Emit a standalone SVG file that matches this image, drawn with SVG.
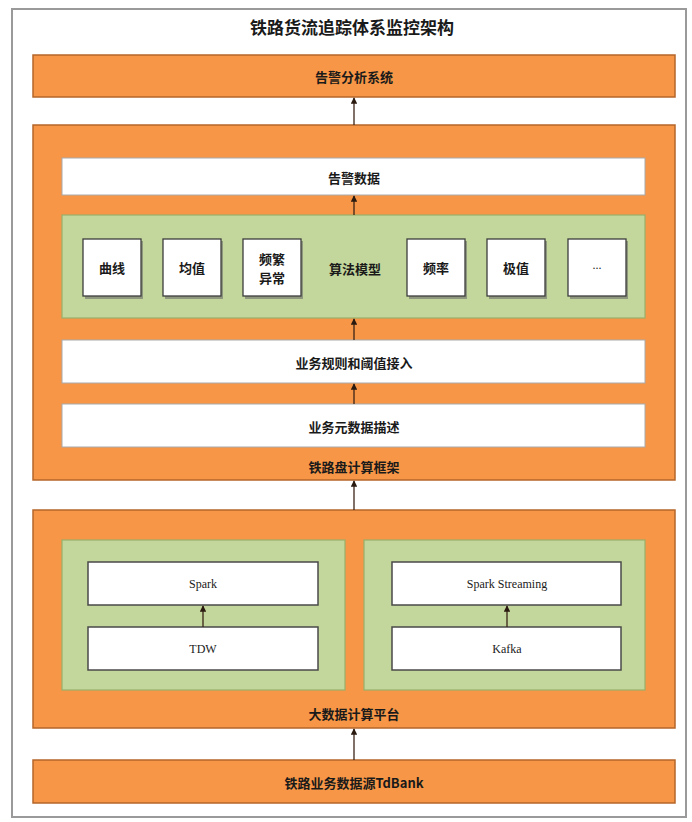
<svg xmlns="http://www.w3.org/2000/svg" width="692" height="822" viewBox="0 0 692 822">
  <style>
    .frame { fill: #ffffff; stroke: #9a9a9a; stroke-width: 2; }
    .orange { fill: #f79646; stroke: #b5652a; stroke-width: 1.5; }
    .green { fill: #c3d69b; stroke: #98b06a; stroke-width: 1.2; }
    .bar { fill: #ffffff; stroke: #a9a9a9; stroke-width: 1; }
    .card { fill: #ffffff; stroke: #4a4a4a; stroke-width: 1.5; }
    .box { fill: #ffffff; stroke: #3c3c3c; stroke-width: 1.3; }
    .shadow { fill: #6d6d6d; opacity: 0.6; }
    .t { font-family: "Noto Sans CJK SC", "Liberation Sans", sans-serif; font-weight: bold; fill: #1a1a1a; text-anchor: middle; dominant-baseline: central; }
    .en { font-family: "Liberation Serif", "Noto Sans CJK SC", serif; fill: #1a1a1a; text-anchor: middle; dominant-baseline: central; font-size: 12px; }
    .title { font-size: 17px; }
    .lbl { font-size: 13px; }
    .conn { stroke: #3b2418; stroke-width: 1.3; fill: none; marker-end: url(#arrow); }
  </style>
  <defs>
    <marker id="arrow" viewBox="0 0 10 10" refX="9" refY="5" markerWidth="5" markerHeight="5" orient="auto">
      <path d="M0,0 L10,5 L0,10 z" fill="#2a1a10"/>
    </marker>
  </defs>

  <!-- page frame -->
  <rect class="frame" x="12" y="9" width="674" height="808"/>

  <text class="t title" x="352" y="26">铁路货流追踪体系监控架构</text>

  <!-- alarm analysis system -->
  <g id="alarm-system">
    <rect class="orange" x="33" y="55" width="642" height="42"/>
    <text class="t lbl" x="354" y="76">告警分析系统</text>
  </g>

  <!-- computing framework -->
  <g id="framework">
    <rect class="orange" x="33" y="125" width="642" height="355"/>
    <text class="t lbl" x="354" y="466">铁路盘计算框架</text>
  </g>

  <g id="alarm-data">
    <rect class="bar" x="62" y="158" width="583" height="37"/>
    <text class="t lbl" x="354" y="177">告警数据</text>
  </g>

  <g id="algorithms">
    <rect class="green" x="62" y="215" width="583" height="103"/>
    <text class="t lbl" x="355" y="268">算法模型</text>
  </g>

  <g id="algo-curve">
    <rect class="shadow" x="85" y="241" width="58" height="58"/>
    <rect class="box" x="83" y="239" width="58" height="57"/>
    <text class="t lbl" x="112" y="267">曲线</text>
  </g>
  <g id="algo-mean">
    <rect class="shadow" x="165" y="241" width="58" height="58"/>
    <rect class="box" x="163" y="239" width="58" height="57"/>
    <text class="t lbl" x="192" y="267">均值</text>
  </g>
  <g id="algo-anomaly">
    <rect class="shadow" x="245" y="241" width="58" height="58"/>
    <rect class="box" x="243" y="239" width="58" height="57"/>
    <text class="t lbl" x="272" y="258">频繁</text>
    <text class="t lbl" x="272" y="277">异常</text>
  </g>
  <g id="algo-rate">
    <rect class="shadow" x="409" y="241" width="58" height="58"/>
    <rect class="box" x="407" y="239" width="58" height="57"/>
    <text class="t lbl" x="436" y="267">频率</text>
  </g>
  <g id="algo-extreme">
    <rect class="shadow" x="489" y="241" width="58" height="58"/>
    <rect class="box" x="487" y="239" width="58" height="57"/>
    <text class="t lbl" x="516" y="267">极值</text>
  </g>
  <g id="algo-more">
    <rect class="shadow" x="570" y="241" width="58" height="58"/>
    <rect class="box" x="568" y="239" width="58" height="57"/>
    <text class="en" x="597" y="265">...</text>
  </g>

  <g id="rules">
    <rect class="bar" x="62" y="340" width="583" height="43"/>
    <text class="t lbl" x="354" y="362">业务规则和阈值接入</text>
  </g>

  <g id="metadata">
    <rect class="bar" x="62" y="404" width="583" height="43"/>
    <text class="t lbl" x="354" y="426">业务元数据描述</text>
  </g>

  <!-- big data platform -->
  <g id="platform">
    <rect class="orange" x="33" y="510" width="642" height="218"/>
    <text class="t lbl" x="354" y="713">大数据计算平台</text>
  </g>

  <g id="batch">
    <rect class="green" x="62" y="540" width="283" height="150"/>
  </g>
  <g id="stream">
    <rect class="green" x="364" y="540" width="281" height="150"/>
  </g>

  <g id="spark">
    <rect class="card" x="88" y="562" width="230" height="43"/>
    <text class="en" x="203" y="584">Spark</text>
  </g>
  <g id="tdw">
    <rect class="card" x="88" y="627" width="230" height="43"/>
    <text class="en" x="203" y="649">TDW</text>
  </g>
  <g id="spark-streaming">
    <rect class="card" x="392" y="562" width="229" height="43"/>
    <text class="en" x="507" y="584">Spark Streaming</text>
  </g>
  <g id="kafka">
    <rect class="card" x="392" y="627" width="229" height="43"/>
    <text class="en" x="507" y="649">Kafka</text>
  </g>

  <!-- data source -->
  <g id="source">
    <rect class="orange" x="33" y="760" width="642" height="43"/>
    <text class="t lbl" x="354" y="782">铁路业务数据源TdBank</text>
  </g>

  <!-- connectors -->
  <g id="connectors">
    <line class="conn" x1="354" y1="125" x2="354" y2="98"/>
    <line class="conn" x1="354" y1="215" x2="354" y2="196"/>
    <line class="conn" x1="354" y1="340" x2="354" y2="319"/>
    <line class="conn" x1="354" y1="404" x2="354" y2="384"/>
    <line class="conn" x1="354" y1="510" x2="354" y2="481"/>
    <line class="conn" x1="203" y1="627" x2="203" y2="606"/>
    <line class="conn" x1="507" y1="627" x2="507" y2="606"/>
    <line class="conn" x1="354" y1="760" x2="354" y2="729"/>
  </g>
</svg>
